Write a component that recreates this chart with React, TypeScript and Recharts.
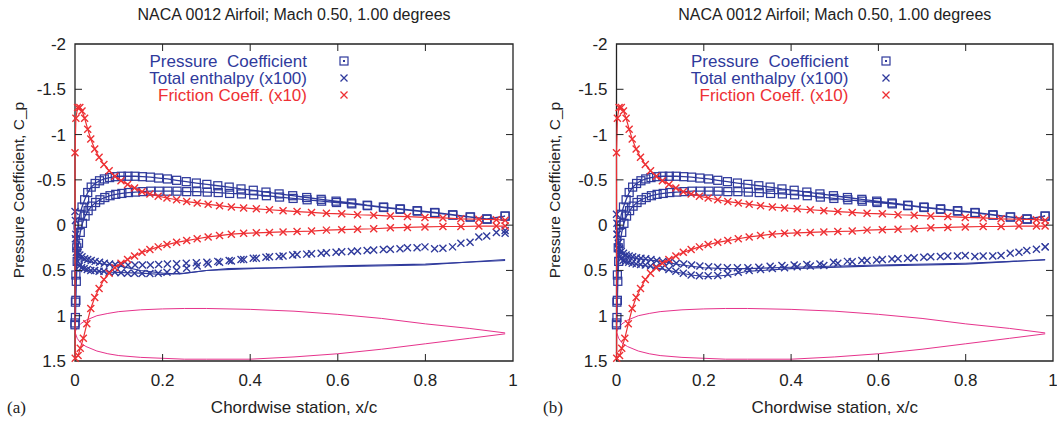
import React from 'react';
import { ScatterChart, Scatter, XAxis, YAxis, ReferenceArea } from 'recharts';

type Pt = [number, number];

const TITLE = 'NACA 0012 Airfoil; Mach 0.50, 1.00 degrees';
const X_TICKS = [0, 0.2, 0.4, 0.6, 0.8, 1];
const Y_TICKS = [-2, -1.5, -1, -0.5, 0, 0.5, 1, 1.5];

const BLUE = '#2f3a9c';
const RED = '#ee3034';
const MAGENTA = '#e6338c';
const INK = '#222';
const FONT = '"Liberation Sans", Arial, Helvetica, sans-serif';

// pressure coefficient, suction side (the one peaking near -0.54)
const CP_UPPER: Pt[] = [
    [0.0, 1.08], [0.001, 0.85], [0.002, 0.55], [0.004, 0.25], [0.007, 0.0], [0.011, -0.12],
    [0.016, -0.2], [0.022, -0.28], [0.029, -0.36], [0.037, -0.42], [0.046, -0.46], [0.056, -0.49],
    [0.067, -0.51], [0.079, -0.525], [0.092, -0.535], [0.106, -0.54], [0.121, -0.54], [0.137, -0.54],
    [0.154, -0.535], [0.172, -0.53], [0.191, -0.52], [0.211, -0.51], [0.232, -0.495], [0.254, -0.48],
    [0.277, -0.465], [0.301, -0.45], [0.326, -0.435], [0.352, -0.42], [0.379, -0.4], [0.407, -0.385],
    [0.436, -0.365], [0.466, -0.345], [0.497, -0.325], [0.529, -0.305], [0.562, -0.285], [0.596, -0.265],
    [0.631, -0.245], [0.667, -0.22], [0.704, -0.2], [0.742, -0.18], [0.781, -0.16], [0.821, -0.14],
    [0.862, -0.115], [0.902, -0.09], [0.94, -0.07], [0.982, -0.1],
];

// pressure coefficient, pressure side
const CP_LOWER: Pt[] = [
    [0.0, 1.1], [0.001, 1.02], [0.002, 0.83], [0.003, 0.62], [0.005, 0.4], [0.008, 0.2],
    [0.012, 0.08], [0.017, -0.02], [0.023, -0.1], [0.03, -0.16], [0.038, -0.21], [0.047, -0.25],
    [0.057, -0.28], [0.068, -0.305], [0.08, -0.325], [0.093, -0.34], [0.107, -0.35], [0.122, -0.36],
    [0.138, -0.365], [0.155, -0.37], [0.173, -0.375], [0.192, -0.375], [0.212, -0.375], [0.233, -0.375],
    [0.255, -0.37], [0.278, -0.37], [0.302, -0.365], [0.327, -0.36], [0.353, -0.35], [0.38, -0.345],
    [0.408, -0.335], [0.437, -0.325], [0.467, -0.31], [0.498, -0.295], [0.53, -0.28], [0.563, -0.265],
    [0.597, -0.25], [0.632, -0.235], [0.668, -0.215], [0.705, -0.195], [0.743, -0.175], [0.782, -0.155],
    [0.822, -0.135], [0.863, -0.11], [0.903, -0.09], [0.941, -0.065], [0.982, -0.1],
];

// friction coefficient x10
const CF_UPPER: Pt[] = [
    [0.0, -0.8], [0.002, -1.18], [0.006, -1.3], [0.011, -1.3], [0.016, -1.26], [0.022, -1.18],
    [0.029, -1.06], [0.036, -0.95], [0.045, -0.84], [0.055, -0.75], [0.066, -0.67], [0.078, -0.6],
    [0.091, -0.54], [0.105, -0.49], [0.12, -0.45], [0.136, -0.41], [0.153, -0.37], [0.171, -0.345],
    [0.19, -0.32], [0.21, -0.3], [0.232, -0.28], [0.255, -0.26], [0.279, -0.245], [0.304, -0.23],
    [0.33, -0.215], [0.357, -0.2], [0.385, -0.19], [0.414, -0.18], [0.444, -0.17], [0.475, -0.16],
    [0.507, -0.15], [0.54, -0.14], [0.574, -0.13], [0.609, -0.125], [0.645, -0.115], [0.682, -0.11],
    [0.72, -0.1], [0.759, -0.095], [0.799, -0.085], [0.84, -0.08], [0.881, -0.07], [0.922, -0.065],
    [0.962, -0.06], [0.982, -0.055],
];

const CF_LOWER: Pt[] = [
    [0.0005, 1.47], [0.007, 1.44], [0.012, 1.36], [0.019, 1.25], [0.027, 1.09], [0.036, 0.92],
    [0.045, 0.8], [0.055, 0.7], [0.066, 0.6], [0.078, 0.53], [0.091, 0.47], [0.105, 0.42],
    [0.12, 0.38], [0.136, 0.34], [0.153, 0.3], [0.171, 0.27], [0.19, 0.24], [0.21, 0.215],
    [0.232, 0.19], [0.255, 0.17], [0.279, 0.15], [0.304, 0.13], [0.33, 0.115], [0.357, 0.1],
    [0.385, 0.09], [0.414, 0.085], [0.444, 0.08], [0.475, 0.075], [0.507, 0.07], [0.54, 0.065],
    [0.574, 0.055], [0.609, 0.05], [0.645, 0.045], [0.682, 0.04], [0.72, 0.03], [0.759, 0.025],
    [0.799, 0.02], [0.84, 0.015], [0.881, 0.015], [0.922, 0.01], [0.962, 0.01], [0.982, 0.01],
];

// airfoil outline
const FOIL_UPPER: Pt[] = [
    [0.0, 1.18], [0.005, 1.13], [0.0125, 1.09], [0.025, 1.05], [0.05, 1.0], [0.075, 0.975],
    [0.1, 0.955], [0.15, 0.935], [0.2, 0.925], [0.25, 0.92], [0.3, 0.92], [0.4, 0.93],
    [0.5, 0.95], [0.6, 0.985], [0.7, 1.03], [0.8, 1.09], [0.9, 1.14], [0.982, 1.19],
];

const FOIL_LOWER: Pt[] = [
    [0.005, 1.25], [0.0125, 1.3], [0.025, 1.34], [0.05, 1.39], [0.075, 1.42], [0.1, 1.44],
    [0.15, 1.46], [0.2, 1.47], [0.25, 1.48], [0.3, 1.48], [0.4, 1.48], [0.5, 1.455],
    [0.6, 1.42], [0.7, 1.37], [0.8, 1.31], [0.9, 1.25], [0.982, 1.2],
];

// total enthalpy x100, panel (a)
const HA_UPPER: Pt[] = [
    [0.0, -0.15], [0.001, -0.05], [0.002, 0.1], [0.004, 0.22], [0.007, 0.3], [0.011, 0.33],
    [0.016, 0.35], [0.022, 0.37], [0.029, 0.38], [0.037, 0.39], [0.046, 0.4], [0.056, 0.41],
    [0.067, 0.42], [0.079, 0.43], [0.092, 0.435], [0.106, 0.44], [0.121, 0.44], [0.137, 0.44],
    [0.154, 0.44], [0.172, 0.44], [0.191, 0.435], [0.211, 0.43], [0.232, 0.425], [0.254, 0.42],
    [0.277, 0.415], [0.301, 0.41], [0.326, 0.4], [0.352, 0.39], [0.379, 0.38], [0.407, 0.365],
    [0.436, 0.355], [0.466, 0.345], [0.497, 0.33], [0.529, 0.32], [0.562, 0.31], [0.596, 0.3],
    [0.631, 0.29], [0.667, 0.28], [0.704, 0.27], [0.742, 0.26], [0.781, 0.25], [0.821, 0.26],
    [0.862, 0.24], [0.902, 0.19], [0.94, 0.12], [0.982, 0.06],
];

const HA_LOWER: Pt[] = [
    [0.001, 0.15], [0.003, 0.3], [0.006, 0.4], [0.01, 0.45], [0.015, 0.47], [0.021, 0.48],
    [0.028, 0.49], [0.036, 0.5], [0.045, 0.5], [0.055, 0.51], [0.066, 0.51], [0.078, 0.52],
    [0.091, 0.52], [0.105, 0.525], [0.12, 0.53], [0.136, 0.53], [0.153, 0.535], [0.171, 0.535],
    [0.19, 0.53], [0.21, 0.52], [0.232, 0.5], [0.255, 0.475], [0.279, 0.45], [0.304, 0.43],
    [0.33, 0.41], [0.357, 0.395], [0.385, 0.38], [0.414, 0.365], [0.444, 0.35], [0.475, 0.34],
    [0.507, 0.325], [0.54, 0.315], [0.574, 0.305], [0.609, 0.295], [0.645, 0.285], [0.682, 0.275],
    [0.72, 0.265], [0.759, 0.25], [0.799, 0.24], [0.84, 0.255], [0.881, 0.2], [0.922, 0.13],
    [0.962, 0.08], [0.982, 0.09],
];

const HA_LINE1: Pt[] = [
    [0.0, -0.1], [0.003, 0.2], [0.008, 0.33], [0.02, 0.39], [0.05, 0.42], [0.1, 0.45],
    [0.15, 0.5], [0.2, 0.53], [0.24, 0.54], [0.27, 0.52], [0.3, 0.5], [0.35, 0.48],
    [0.45, 0.47], [0.6, 0.45], [0.8, 0.43], [0.982, 0.39],
];

const HA_LINE2: Pt[] = [
    [0.003, 0.25], [0.01, 0.45], [0.03, 0.5], [0.08, 0.52], [0.15, 0.53], [0.2, 0.545],
    [0.25, 0.53], [0.3, 0.5], [0.4, 0.48], [0.6, 0.46], [0.8, 0.44], [0.982, 0.38],
];

// total enthalpy x100, panel (b)
const HB_UPPER: Pt[] = [
    [0.0, -0.12], [0.001, -0.02], [0.002, 0.1], [0.004, 0.2], [0.007, 0.26], [0.011, 0.29],
    [0.016, 0.31], [0.022, 0.33], [0.029, 0.34], [0.037, 0.35], [0.046, 0.36], [0.056, 0.365],
    [0.067, 0.37], [0.079, 0.38], [0.092, 0.39], [0.106, 0.4], [0.121, 0.41], [0.137, 0.42],
    [0.154, 0.43], [0.172, 0.44], [0.191, 0.45], [0.211, 0.46], [0.232, 0.465], [0.254, 0.47],
    [0.277, 0.47], [0.301, 0.47], [0.326, 0.465], [0.352, 0.455], [0.379, 0.445], [0.407, 0.44],
    [0.436, 0.435], [0.466, 0.43], [0.497, 0.41], [0.529, 0.4], [0.562, 0.39], [0.596, 0.385],
    [0.631, 0.375], [0.667, 0.365], [0.704, 0.355], [0.742, 0.345], [0.781, 0.34], [0.821, 0.345],
    [0.862, 0.34], [0.902, 0.31], [0.94, 0.28], [0.982, 0.24],
];

const HB_LOWER: Pt[] = [
    [0.001, 0.1], [0.003, 0.25], [0.006, 0.33], [0.01, 0.37], [0.015, 0.39], [0.021, 0.4],
    [0.028, 0.41], [0.036, 0.42], [0.045, 0.43], [0.055, 0.435], [0.066, 0.44], [0.078, 0.45],
    [0.091, 0.46], [0.105, 0.47], [0.12, 0.49], [0.136, 0.51], [0.153, 0.53], [0.171, 0.55],
    [0.19, 0.56], [0.21, 0.56], [0.232, 0.555], [0.255, 0.54], [0.279, 0.52], [0.304, 0.5],
    [0.33, 0.49], [0.357, 0.48], [0.385, 0.47], [0.414, 0.46], [0.444, 0.45], [0.475, 0.445],
    [0.507, 0.42], [0.54, 0.405], [0.574, 0.39], [0.609, 0.38], [0.645, 0.37], [0.682, 0.36],
    [0.72, 0.35], [0.759, 0.34], [0.799, 0.335], [0.84, 0.34], [0.881, 0.335], [0.922, 0.3],
    [0.962, 0.265], [0.982, 0.24],
];

const HB_LINE1: Pt[] = [
    [0.0, -0.1], [0.003, 0.2], [0.008, 0.3], [0.02, 0.34], [0.05, 0.37], [0.1, 0.4],
    [0.15, 0.44], [0.2, 0.47], [0.25, 0.48], [0.3, 0.48], [0.4, 0.465], [0.6, 0.44],
    [0.8, 0.42], [0.982, 0.385],
];

const HB_LINE2: Pt[] = [
    [0.003, 0.25], [0.01, 0.38], [0.03, 0.42], [0.08, 0.46], [0.12, 0.5], [0.17, 0.55],
    [0.21, 0.57], [0.26, 0.55], [0.3, 0.51], [0.4, 0.48], [0.6, 0.45], [0.8, 0.43],
    [0.982, 0.38],
];

const rows = (pts: Pt[]) => pts.map(([x, y]) => ({ x, y }));
const loop = (lower: Pt[], upper: Pt[]) => rows([...lower].reverse().concat(upper));

const Square = (p: any) => (
    <rect x={p.cx - 4} y={p.cy - 4} width={8} height={8} fill="none" stroke={BLUE} strokeWidth={1.25} />
);
const crossOf = (color: string) => (p: any) => (
    <path
        d={`M${p.cx - 3.5} ${p.cy - 3.5}L${p.cx + 3.5} ${p.cy + 3.5}M${p.cx - 3.5} ${p.cy + 3.5}L${p.cx + 3.5} ${p.cy - 3.5}`}
        stroke={color}
        strokeWidth={1.4}
    />
);
const BlueCross = crossOf(BLUE);
const RedCross = crossOf(RED);
const NoDot = () => <g />;

const CHART_H = 422;
const TOP = 44;
const X_AXIS_H = 61;
const PLOT_H = CHART_H - TOP - X_AXIS_H;
const TICK = 7;

interface PanelProps {
    left: number;
    width: number;
    yAxisWidth: number;
    marginRight: number;
    tag: string;
    yLabelX: number;
    hUpper: Pt[];
    hLower: Pt[];
    hLine1: Pt[];
    hLine2: Pt[];
}

const Panel: React.FC<PanelProps> = ({ left, width, yAxisWidth, marginRight, tag, yLabelX, hUpper, hLower, hLine1, hLine2 }) => {
    const plotW = width - yAxisWidth - marginRight;
    const plotMid = yAxisWidth + plotW / 2;

    // gnuplot-like inward ticks on both sides
    const xTick = (p: any) => {
        const { x, y, payload } = p;
        const edge = payload.value === 0 || payload.value === 1;
        return (
            <g>
                {!edge && <line x1={x} y1={y} x2={x} y2={y - TICK} stroke={INK} />}
                {!edge && <line x1={x} y1={y - PLOT_H} x2={x} y2={y - PLOT_H + TICK} stroke={INK} />}
                <text x={x} y={y + 25} textAnchor="middle" fontSize={17} fill={INK} fontFamily={FONT}>
                    {String(payload.value)}
                </text>
            </g>
        );
    };
    const yTick = (p: any) => {
        const { x, y, payload } = p;
        const edge = payload.value === -2 || payload.value === 1.5;
        return (
            <g>
                {!edge && <line x1={x} y1={y} x2={x + TICK} y2={y} stroke={INK} />}
                {!edge && <line x1={x + plotW - TICK} y1={y} x2={x + plotW} y2={y} stroke={INK} />}
                <text x={x - 9} y={y + 6} textAnchor="end" fontSize={17} fill={INK} fontFamily={FONT}>
                    {String(payload.value)}
                </text>
            </g>
        );
    };

    const legend = [
        { text: 'Pressure\u00a0\u00a0Coefficient', color: BLUE, mark: 'sq', y: 61 },
        { text: 'Total enthalpy (x100)', color: BLUE, mark: 'x', y: 78 },
        { text: 'Friction Coeff. (x10)', color: RED, mark: 'x', y: 95 },
    ];

    return (
        <div style={{ position: 'absolute', left, top: 0, width, height: CHART_H }}>
            <ScatterChart width={width} height={CHART_H} margin={{ top: TOP, right: marginRight, bottom: 0, left: 0 }}>
                <XAxis
                    type="number"
                    dataKey="x"
                    domain={[0, 1]}
                    ticks={X_TICKS}
                    interval={0}
                    height={X_AXIS_H}
                    tickSize={0}
                    tickMargin={0}
                    tickLine={false}
                    axisLine={false}
                    tick={xTick}
                />
                <YAxis
                    type="number"
                    dataKey="y"
                    domain={[-2, 1.5]}
                    reversed
                    ticks={Y_TICKS}
                    interval={0}
                    width={yAxisWidth}
                    tickSize={0}
                    tickMargin={0}
                    tickLine={false}
                    axisLine={false}
                    tick={yTick}
                />
                <ReferenceArea x1={0} x2={1} y1={-2} y2={1.5} fill="none" fillOpacity={0} stroke={INK} strokeWidth={1.3} />
                <Scatter data={loop(FOIL_LOWER, FOIL_UPPER)} line={{ stroke: MAGENTA, strokeWidth: 1 }} shape={NoDot} isAnimationActive={false} />
                <Scatter data={rows(hLine1)} line={{ stroke: BLUE, strokeWidth: 1.1 }} shape={NoDot} isAnimationActive={false} />
                <Scatter data={rows(hLine2)} line={{ stroke: BLUE, strokeWidth: 1.1 }} shape={NoDot} isAnimationActive={false} />
                <Scatter data={rows(hUpper)} shape={BlueCross} isAnimationActive={false} />
                <Scatter data={rows(hLower)} shape={BlueCross} isAnimationActive={false} />
                <Scatter data={loop(CP_LOWER, CP_UPPER)} line={{ stroke: BLUE, strokeWidth: 1.3 }} shape={Square} isAnimationActive={false} />
                <Scatter data={loop(CF_LOWER, CF_UPPER)} line={{ stroke: RED, strokeWidth: 1.2 }} shape={RedCross} isAnimationActive={false} />
            </ScatterChart>

            <div style={{ position: 'absolute', left: plotMid, top: 15, transform: 'translate(-50%, -50%)', whiteSpace: 'nowrap', fontFamily: FONT, fontSize: 16, color: INK }}>
                {TITLE}
            </div>
            <div style={{ position: 'absolute', left: yLabelX, top: 190, transform: 'translate(-50%, -50%) rotate(-90deg)', whiteSpace: 'nowrap', fontFamily: FONT, fontSize: 15.5, color: INK }}>
                Pressure Coefficient, C_p
            </div>
            <div style={{ position: 'absolute', left: plotMid, top: 408, transform: 'translate(-50%, -50%)', whiteSpace: 'nowrap', fontFamily: FONT, fontSize: 17, color: INK }}>
                Chordwise station, x/c
            </div>
            <div style={{ position: 'absolute', left: tag === '(a)' ? 7 : 15, top: 408, transform: 'translateY(-50%)', fontFamily: '"Liberation Serif", "DejaVu Serif", serif', fontSize: 17, color: INK }}>
                {tag}
            </div>

            {legend.map((item) => (
                <React.Fragment key={item.text}>
                    <div style={{ position: 'absolute', right: width - (yAxisWidth + 232), top: item.y, transform: 'translateY(-50%)', whiteSpace: 'nowrap', fontFamily: FONT, fontSize: 17, color: item.color, lineHeight: 1 }}>
                        {item.text}
                    </div>
                    <svg style={{ position: 'absolute', left: yAxisWidth + 269 - 5, top: item.y - 5 }} width={10} height={10}>
                        {item.mark === 'sq' ? (
                            <g>
                                <rect x={1} y={1} width={8} height={8} fill="none" stroke={item.color} strokeWidth={1.2} />
                                <rect x={4} y={4} width={2} height={2} fill={item.color} />
                            </g>
                        ) : (
                            <path d="M1.5 1.5L8.5 8.5M1.5 8.5L8.5 1.5" stroke={item.color} strokeWidth={1.3} />
                        )}
                    </svg>
                </React.Fragment>
            ))}
        </div>
    );
};

export default function App() {
    return (
        <div style={{ position: 'absolute', left: 0, top: 0, width: 1057, height: 422, background: '#fff', overflow: 'hidden' }}>
            <Panel left={0} width={528} yAxisWidth={75} marginRight={15} tag="(a)" yLabelX={19}
                hUpper={HA_UPPER} hLower={HA_LOWER} hLine1={HA_LINE1} hLine2={HA_LINE2} />
            <Panel left={528} width={529} yAxisWidth={88.5} marginRight={4} tag="(b)" yLabelX={27}
                hUpper={HB_UPPER} hLower={HB_LOWER} hLine1={HB_LINE1} hLine2={HB_LINE2} />
        </div>
    );
}
